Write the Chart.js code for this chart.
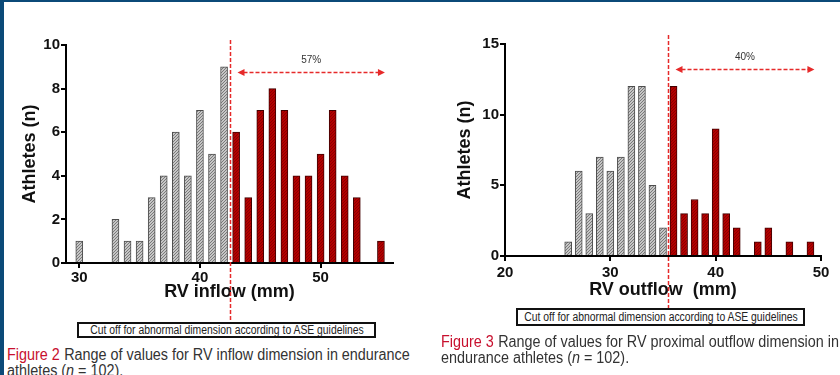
<!DOCTYPE html>
<html>
<head>
<meta charset="utf-8">
<script src="https://cdn.jsdelivr.net/npm/chart.js@4.4.0/dist/chart.umd.min.js"></script>
<style>
  html, body { margin: 0; padding: 0; }
  body {
    width: 840px; height: 375px; overflow: hidden; position: relative;
    background: #fff; font-family: "Liberation Sans", Arial, sans-serif;
  }
  .frame-left { position: absolute; left: 0; top: 0; width: 4px; height: 375px; background: #0b4a78; z-index: 5; }
  .frame-top { position: absolute; left: 0; top: 0; width: 840px; height: 2px; background: #0b4a78; z-index: 5; }
  .plot { position: absolute; top: 0; }
  .note {
    position: absolute; box-sizing: border-box; border: 2px solid #111; background: #fff;
    font-size: 12px; color: #222; white-space: nowrap; overflow: hidden;
  }
  .note span { position: absolute; left: 50%; top: 0; transform-origin: center; }
  .caption {
    position: absolute; font-size: 16px; line-height: 16px; color: #333;
    white-space: nowrap; transform-origin: left top;
  }
  .caption .fig { color: #c8102e; margin-right: 5px; }
</style>
</head>
<body>
<div class="frame-left"></div>
<div class="frame-top"></div>

<canvas id="inflowChart" class="plot" width="420" height="345" style="left:0"></canvas>
<canvas id="outflowChart" class="plot" width="420" height="345" style="left:420px"></canvas>

<div class="note" style="left:77px; top:322px; width:299px; height:16px; line-height:12px;">
  <span>Cut off for abnormal dimension according to ASE guidelines</span>
</div>
<div class="note" style="left:516px; top:308px; width:289px; height:18px; line-height:14px;">
  <span>Cut off for abnormal dimension according to ASE guidelines</span>
</div>

<div class="caption" id="cap2" style="left:7px; top:347px;">
  <div><span class="line"><span class="fig">Figure 2</span>Range of values for RV inflow dimension in endurance</span></div>
  <div>athletes (<i>n</i> = 102).</div>
</div>
<div class="caption" id="cap3" style="left:441px; top:334px;">
  <div><span class="fig">Figure 3</span>Range of values for RV proximal outflow dimension in</div>
  <div>endurance athletes (<i>n</i> = 102).</div>
</div>

<script>
'use strict';

// RV inflow histogram (mm -> number of athletes)
const inflowBins   = [30, 33, 34, 35, 36, 37, 38, 39, 40, 41, 42, 43, 44, 45, 46, 47, 48, 49, 50, 51, 52, 53, 55];
const inflowCounts = [1, 2, 1, 1, 3, 4, 6, 4, 7, 5, 9, 6, 3, 7, 8, 7, 4, 4, 5, 7, 4, 3, 1];
const inflowCutoff = 42.5;
const inflowXTicks = [30, 40, 50];
const inflowYTicks = [0, 2, 4, 6, 8, 10];

// RV proximal outflow histogram
const outflowBins   = [26, 27, 28, 29, 30, 31, 32, 33, 34, 35, 36, 37, 38, 39, 40, 41, 42, 44, 45, 47, 49];
const outflowCounts = [1, 6, 3, 7, 6, 7, 12, 12, 5, 2, 12, 3, 4, 3, 9, 3, 2, 1, 2, 1, 1];
const outflowCutoff = 35.5;
const outflowXTicks = [20, 30, 40, 50];
const outflowYTicks = [0, 5, 10, 15];

Chart.defaults.font.family = '"Liberation Sans", Arial, sans-serif';
Chart.defaults.color = '#111';

const RED = '#e62a2a';

// diagonal hatch fill for the bars
function hatch(bg, fg) {
    const c = document.createElement('canvas');
    c.width = c.height = 3;
    const g = c.getContext('2d');
    g.fillStyle = bg;
    g.fillRect(0, 0, 3, 3);
    g.strokeStyle = fg;
    g.lineWidth = 1;
    g.beginPath();
    g.moveTo(0, 3); g.lineTo(3, 0);
    g.moveTo(-1, 1); g.lineTo(1, -1);
    g.moveTo(2, 4); g.lineTo(4, 2);
    g.stroke();
    return g.createPattern(c, 'repeat');
}

// dashed cut-off line plus the arrow spanning the abnormal range
const cutoffPlugin = {
    id: 'cutoff',
    afterDraw(chart, args, o) {
        const { ctx, scales: { x, y } } = chart;
        const cx = Math.round(x.getPixelForValue(o.value)) + 0.5;
        ctx.save();
        ctx.strokeStyle = RED;
        ctx.fillStyle = RED;
        ctx.lineWidth = 1.5;
        ctx.setLineDash([4, 2]);
        ctx.beginPath();
        ctx.moveTo(cx, o.lineTop);
        ctx.lineTo(cx, o.lineBottom);
        ctx.stroke();

        const x0 = cx + 7;
        const x1 = x.getPixelForValue(o.arrowEnd) + 4;
        const ay = Math.round(y.getPixelForValue(o.arrowAt)) + 0.5;
        ctx.beginPath();
        ctx.moveTo(x0 + 6, ay);
        ctx.lineTo(x1 - 6, ay);
        ctx.stroke();
        ctx.setLineDash([]);
        ctx.beginPath();
        ctx.moveTo(x0, ay); ctx.lineTo(x0 + 7, ay - 3.5); ctx.lineTo(x0 + 7, ay + 3.5);
        ctx.fill();
        ctx.beginPath();
        ctx.moveTo(x1, ay); ctx.lineTo(x1 - 7, ay - 3.5); ctx.lineTo(x1 - 7, ay + 3.5);
        ctx.fill();

        ctx.fillStyle = '#333';
        ctx.font = '10px "Liberation Sans", Arial, sans-serif';
        ctx.textAlign = 'center';
        ctx.textBaseline = 'middle';
        ctx.fillText(o.label, (x0 + x1) / 2, ay - 12);
        ctx.restore();
    }
};

function histogram(id, bins, counts, cutoff, xTicks, yTicks, xMin, xMax, xTitle, geo) {
    const below = [], above = [];
    bins.forEach((b, i) => (b < cutoff ? below : above).push({ x: b, y: counts[i] }));
    const total = counts.reduce((a, b) => a + b, 0);
    const abnormal = above.reduce((a, p) => a + p.y, 0);

    const axisGrid = { display: true, drawOnChartArea: false, drawTicks: true, tickLength: 5, color: '#000', lineWidth: 2 };
    const tickFont = { size: 15, weight: 'bold' };

    return new Chart(document.getElementById(id), {
        type: 'bar',
        data: {
            datasets: [{
                data: below,
                backgroundColor: hatch('#c6c6c6', '#7a7a7a'),
                borderColor: '#4d4d4d',
                borderWidth: 1
            }, {
                data: above,
                backgroundColor: hatch('#b40000', '#8a0000'),
                borderColor: '#420000',
                borderWidth: 1
            }]
        },
        options: {
            responsive: false,
            animation: false,
            grouped: false,
            barThickness: 7,
            layout: { padding: { left: geo.padL, top: geo.padT, right: geo.padR, bottom: 0 } },
            scales: {
                x: {
                    type: 'linear',
                    min: xMin,
                    max: xMax,
                    offset: false,
                    grid: Object.assign({ offset: false }, axisGrid),
                    border: { display: true, color: '#000', width: 2 },
                    afterBuildTicks: s => { s.ticks = xTicks.map(v => ({ value: v })); },
                    afterFit: s => { s.height = geo.xH; s.paddingLeft = 0; s.paddingRight = 0; },
                    ticks: { font: tickFont, color: '#111', padding: geo.xTickPad, maxRotation: 0 },
                    title: {
                        display: true, text: xTitle, color: '#111',
                        font: { size: 18, weight: 'bold' },
                        padding: { top: 0, bottom: geo.xTitlePad }
                    }
                },
                y: {
                    min: 0,
                    max: yTicks[yTicks.length - 1],
                    grid: axisGrid,
                    border: { display: true, color: '#000', width: 2 },
                    afterBuildTicks: s => { s.ticks = yTicks.map(v => ({ value: v })); },
                    afterFit: s => { s.width = geo.yW; s.paddingTop = 0; s.paddingBottom = 0; },
                    ticks: { font: tickFont, color: '#111', padding: geo.yTickPad },
                    title: {
                        display: true, text: 'Athletes (n)', color: '#111',
                        font: { size: 18, weight: 'bold' },
                        padding: { top: geo.yTitlePad, bottom: 0 }
                    }
                }
            },
            plugins: {
                legend: { display: false },
                tooltip: { enabled: false },
                cutoff: {
                    value: cutoff,
                    lineTop: geo.lineTop,
                    lineBottom: geo.lineBottom,
                    arrowEnd: bins[bins.length - 1],
                    arrowAt: geo.arrowAt,
                    label: Math.floor(abnormal / total * 100) + '%'
                }
            }
        },
        plugins: [cutoffPlugin]
    });
}

histogram('inflowChart', inflowBins, inflowCounts, inflowCutoff, inflowXTicks, inflowYTicks,
    28.9, 56, 'RV inflow (mm)',
    { padL: 8, padT: 45, padR: 27, yW: 58, xH: 82, yTitlePad: 11, xTitlePad: 42,
      xTickPad: 1, yTickPad: 1, lineTop: 40, lineBottom: 322, arrowAt: 8.76 });

histogram('outflowChart', outflowBins, outflowCounts, outflowCutoff, outflowXTicks, outflowYTicks,
    20, 50, 'RV outflow  (mm)',
    { padL: 20, padT: 44, padR: 19, yW: 65, xH: 89, yTitlePad: 14, xTitlePad: 44,
      xTickPad: 3, yTickPad: 1, lineTop: 35, lineBottom: 308, arrowAt: 13.2 });

// squeeze the narrow-set text to its printed width, centred in its box
document.querySelectorAll('.note span').forEach(el => {
    const target = el.parentElement.clientWidth > 295 ? 281 : 274;
    const s = (target / el.offsetWidth).toFixed(3);
    el.style.transform = 'translateX(-50%) scaleX(' + s + ')';
});
const firstLine = document.querySelector('#cap2 .line');
const k = (403 / firstLine.offsetWidth).toFixed(3);
document.querySelectorAll('.caption').forEach(el => { el.style.transform = 'scaleX(' + k + ')'; });
</script>
</body>
</html>
